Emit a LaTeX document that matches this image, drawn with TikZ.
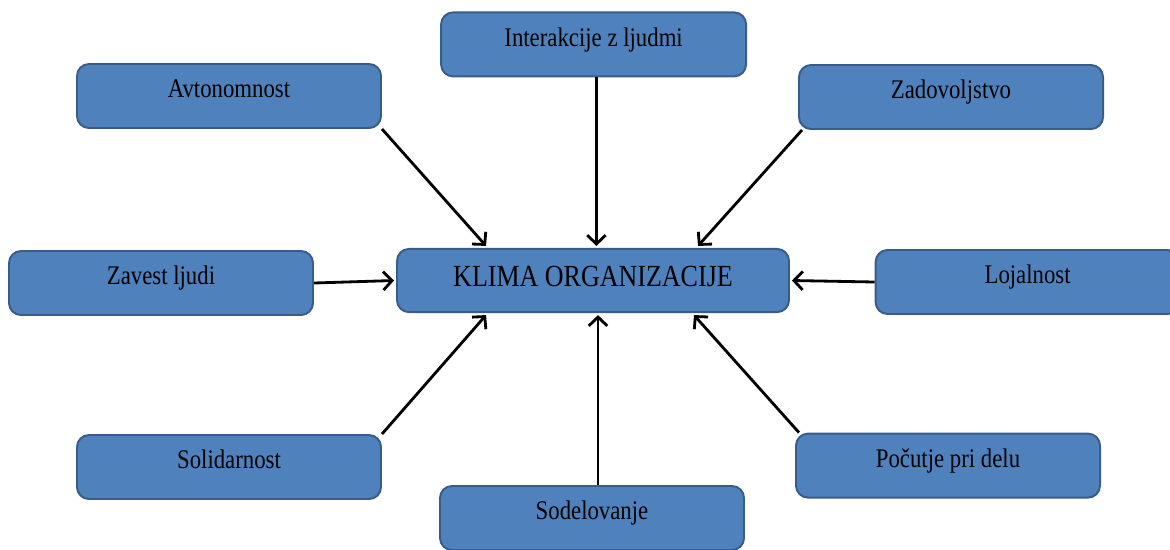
\documentclass[tikz,border=0pt]{standalone}
\usepackage{fontspec}
\setmainfont{Liberation Serif}
\usepackage{tikz}
\usetikzlibrary{arrows.meta, calc, positioning}
\definecolor{boxfill}{RGB}{79,129,189}
\definecolor{boxline}{RGB}{56,93,138}
\newcommand{\tallt}[1]{\scalebox{1}[1.18]{#1}}

\begin{document}
\begin{tikzpicture}[
  factor/.style={rectangle, rounded corners=0.3cm, draw=boxline, line width=1.4pt, fill=boxfill,
    minimum width=7.6cm, minimum height=1.6cm, align=center,
    font=\fontsize{16.2pt}{19pt}\selectfont, text height=0.45cm, text depth=0.37cm},
  climate/.style={factor, minimum width=9.8cm, minimum height=1.58cm,
    font=\fontsize{18.5pt}{22pt}\selectfont, text height=0.5cm, text depth=0.22cm},
  arrow/.style={-{Straight Barb[length=0.22cm, width=0.46cm]}, line width=2pt}
]

\useasboundingbox (0,0) rectangle (29.25,-13.725);

% --- Mitte ---
\node[climate] (klima) at (14.825, -7.0125) {\tallt{KLIMA ORGANIZACIJE}};

% --- Faktorji okoli ---
\node[factor, minimum width=7.625cm] (interakcije) at (14.84, -1.11) {\tallt{Interakcije z ljudmi}};
\node[factor] (avtonomnost)  at (5.725, -2.4)    {\tallt{Avtonomnost}};
\node[factor] (zadovoljstvo) at (23.775, -2.425) {\tallt{Zadovoljstvo}};
\node[factor] (zavest)       at (4.025, -7.075)  {\tallt{Zavest ljudi}};
\node[factor] (lojalnost)    at (25.69, -7.05)   {\tallt{Lojalnost}};
\node[factor] (solidarnost)  at (5.725, -11.675) {\tallt{Solidarnost}};
\node[factor] (sodelovanje)  at (14.8, -12.95)   {\tallt{Sodelovanje}};
\node[factor] (pocutje)      at (23.7, -11.64)   {\tallt{Počutje pri delu}};

% Povezave
\draw[arrow] (avtonomnost.south east) -- ([xshift=2.25cm, yshift=0.05cm]klima.north west);
\draw[arrow] ([xshift=0.07cm]interakcije.south) -- ([xshift=0.07cm, yshift=0.05cm]interakcije.south |- klima.north);
\draw[arrow] ([xshift=0.1cm]zadovoljstvo.south west) -- ([xshift=-2.3cm, yshift=0.05cm]klima.north east);
\draw[arrow] (zavest.east) -- ([xshift=-0.05cm]klima.west);
\draw[arrow] (lojalnost.west) -- ([xshift=0.05cm]klima.east);
\draw[arrow] (solidarnost.north east) -- ([xshift=2.25cm, yshift=-0.05cm]klima.south west);
\draw[arrow] ([xshift=0.15cm]sodelovanje.north) -- ([xshift=0.15cm, yshift=-0.05cm]sodelovanje.north |- klima.south);
\draw[arrow] ([xshift=0.1cm]pocutje.north west) -- ([xshift=-2.4cm, yshift=-0.05cm]klima.south east);
\end{tikzpicture}
\end{document}
